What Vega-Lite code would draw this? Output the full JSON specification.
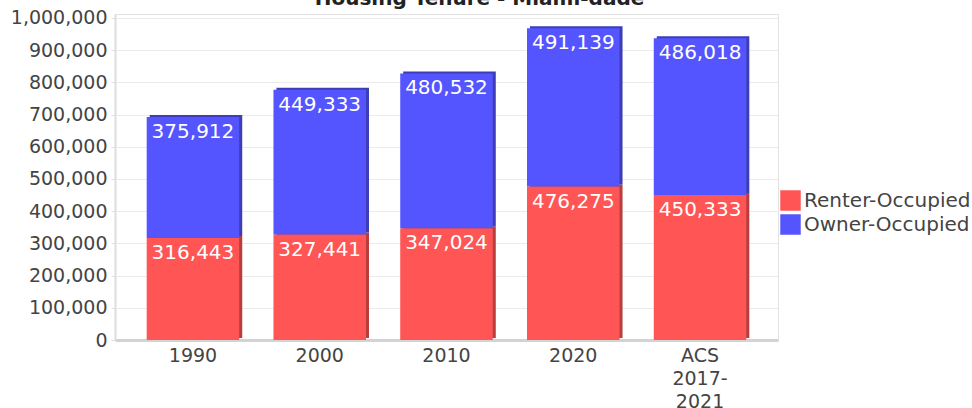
{
  "$schema": "https://vega.github.io/schema/vega-lite/v6.json",
  "width": 663,
  "height": 326,
  "autosize": {"type": "none"},
  "padding": {"left": 115, "top": 14, "right": 194, "bottom": 68},
  "title": {"text": "Housing Tenure - Miami-dade", "fontSize": 20, "font": "DejaVu Sans", "fontWeight": "bold", "color": "#222", "anchor": "middle", "frame": "group", "offset": 0, "baseline": "alphabetic", "dx": 33, "dy": 16},
  "config": {"view": {"stroke": "#e3e3e3"}, "font": "DejaVu Sans"},
  "data": {"values": [
    {"period": "1990", "tenure": "Renter-Occupied", "units": 316443},
    {"period": "1990", "tenure": "Owner-Occupied", "units": 375912},
    {"period": "2000", "tenure": "Renter-Occupied", "units": 327441},
    {"period": "2000", "tenure": "Owner-Occupied", "units": 449333},
    {"period": "2010", "tenure": "Renter-Occupied", "units": 347024},
    {"period": "2010", "tenure": "Owner-Occupied", "units": 480532},
    {"period": "2020", "tenure": "Renter-Occupied", "units": 476275},
    {"period": "2020", "tenure": "Owner-Occupied", "units": 491139},
    {"period": "ACS 2017-2021", "tenure": "Renter-Occupied", "units": 450333},
    {"period": "ACS 2017-2021", "tenure": "Owner-Occupied", "units": 486018}
  ]},
  "encoding": {
    "x": {"field": "period", "type": "nominal", "sort": null,
      "scale": {"paddingInner": 0.27, "paddingOuter": 0.25},
      "axis": {"title": null, "labelAngle": 0, "ticks": false, "domainColor": "#d3d3d3", "domainWidth": 3, "labelFontSize": 19, "labelColor": "#444", "labelPadding": 6, "labelLineHeight": 23,
        "labelExpr": "datum.value == 'ACS 2017-2021' ? ['ACS','2017-','2021'] : datum.value"}},
    "y": {"field": "units", "type": "quantitative", "stack": "zero",
      "scale": {"domain": [0, 1012000], "nice": false},
      "axis": {"title": null, "format": ",d", "values": [0, 100000, 200000, 300000, 400000, 500000, 600000, 700000, 800000, 900000, 1000000], "gridColor": "#ebebeb", "domainColor": "#dddddd", "domainWidth": 2, "tickColor": "#dddddd", "tickSize": 4, "labelPadding": 4, "labelFontSize": 19, "labelColor": "#444"}},
    "order": {"field": "tenure", "sort": "descending"}
  },
  "layer": [
    {
      "mark": {"type": "bar", "xOffset": 3, "yOffset": -2},
      "encoding": {
        "color": {"field": "tenure", "type": "nominal", "legend": null,
          "scale": {"domain": ["Renter-Occupied", "Owner-Occupied"], "range": ["#b83d3d", "#3d3db8"]}}
      }
    },
    {
      "mark": {"type": "bar"},
      "encoding": {
        "color": {"field": "tenure", "type": "nominal",
          "scale": {"domain": ["Renter-Occupied", "Owner-Occupied"], "range": ["#FF5555", "#5555FF"]},
          "legend": {"title": null, "orient": "none", "legendX": 665, "legendY": 176, "symbolType": "square", "symbolSize": 420, "symbolStrokeWidth": 0, "labelFontSize": 20, "labelLimit": 300, "labelColor": "#444", "rowPadding": 3, "labelOffset": 3, "padding": 0}}
      }
    },
    {
      "mark": {"type": "text", "baseline": "top", "dy": 5, "color": "white", "fontSize": 20},
      "encoding": {
        "detail": {"field": "tenure"},
        "text": {"field": "units", "type": "quantitative", "format": ",d"}
      }
    }
  ],
  "resolve": {"scale": {"color": "independent"}}
}
